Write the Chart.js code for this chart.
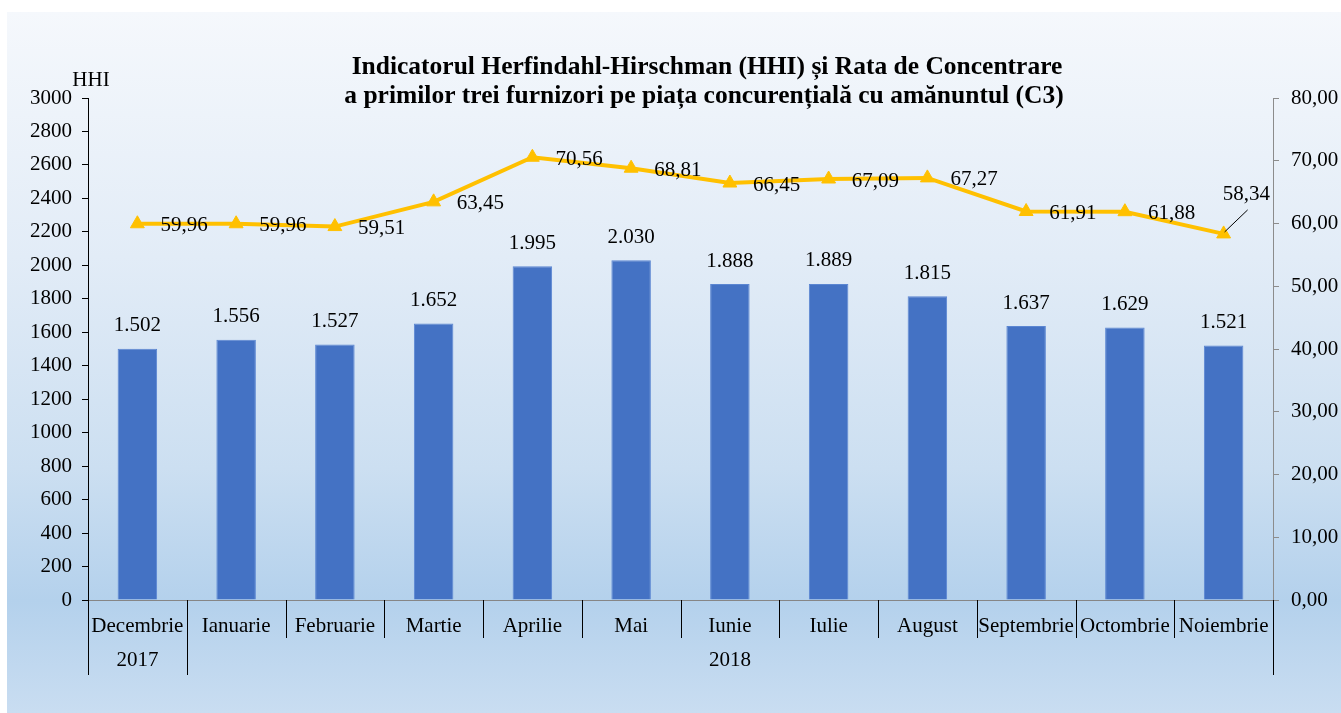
<!DOCTYPE html>
<html>
<head>
<meta charset="utf-8">
<script src="https://cdn.jsdelivr.net/npm/chart.js@4.4.1/dist/chart.umd.min.js"></script>
<style>
html,body{margin:0;padding:0;background:#fff;overflow:hidden;width:1341px;height:713px}
#panel{position:absolute;left:7px;top:12px;width:1334px;height:701px;
background:linear-gradient(to bottom,#F5F8FC 0%,#E2ECF7 35%,#CCDFF1 65%,#B4D1EC 84%,#C9DDF1 100%)}
canvas{display:block}
</style>
</head>
<body>
<div id="panel"><canvas id="c" width="1334" height="701"></canvas></div>
<script>
const categories = ['Decembrie','Ianuarie','Februarie','Martie','Aprilie','Mai','Iunie','Iulie','August','Septembrie','Octombrie','Noiembrie'];
const yearLabels = ['2017','2018'];
const yearSpans = [1, 11];
const hhiValues = [1502,1556,1527,1652,1995,2030,1888,1889,1815,1637,1629,1521];
const c3Values = [59.96,59.96,59.51,63.45,70.56,68.81,66.45,67.09,67.27,61.91,61.88,58.34];
const titleLines = ['Indicatorul Herfindahl-Hirschman (HHI) și Rata de Concentrare','a primilor trei furnizori pe piața concurențială cu amănuntul (C3)'];
const leftAxisTitle = 'HHI';

const FONT = 'Liberation Serif, Times New Roman, serif';
const fmtHHI = v => Math.floor(v/1000) + '.' + String(v%1000).padStart(3,'0');
const fmtC3 = v => v.toFixed(2).replace('.', ',');

const decorPlugin = {
  id: 'decor',
  afterDatasetsDraw(chart) {
    const ctx = chart.ctx;
    ctx.save();
    ctx.fillStyle = '#000';
    ctx.font = '21px ' + FONT;
    ctx.textBaseline = 'middle';
    const barMeta = chart.getDatasetMeta(1);
    ctx.textAlign = 'center';
    barMeta.data.forEach((el, i) => {
      ctx.fillText(fmtHHI(hhiValues[i]), el.x, el.y - 23);
    });
    const lineMeta = chart.getDatasetMeta(0);
    lineMeta.data.forEach((el, i) => {
      ctx.textAlign = 'left';
      if (i === lineMeta.data.length - 1) {
        ctx.fillText(fmtC3(c3Values[i]), el.x - 1, el.y - 39);
        ctx.strokeStyle = '#000';
        ctx.lineWidth = 1;
        ctx.beginPath();
        ctx.moveTo(el.x + 1, el.y - 2);
        ctx.lineTo(el.x + 24, el.y - 24);
        ctx.stroke();
      } else {
        ctx.fillText(fmtC3(c3Values[i]), el.x + 23, el.y + 2);
      }
    });
    ctx.restore();
  },
  afterDraw(chart) {
    const ctx = chart.ctx;
    const xs = chart.scales.x;
    const ca = chart.chartArea;
    ctx.save();
    ctx.fillStyle = '#000';
    ctx.textAlign = 'center';
    ctx.textBaseline = 'middle';
    ctx.font = 'bold 25.5px ' + FONT;
    ctx.fillText(titleLines[0], 700, 55);
    ctx.fillText(titleLines[1], 697, 84);
    ctx.font = '21px ' + FONT;
    ctx.fillText(leftAxisTitle, 84, 68);
    const y0 = ca.bottom;
    ctx.strokeStyle = '#000';
    ctx.lineWidth = 1;
    const bounds = [];
    for (let i = 0; i <= categories.length; i++) bounds.push(Math.round(xs.getPixelForValue(i - 0.5)) + 0.5);
    const yearBounds = [0];
    let acc = 0;
    yearSpans.forEach(s => { acc += s; yearBounds.push(acc); });
    bounds.forEach((bx, i) => {
      const long = yearBounds.includes(i);
      ctx.beginPath();
      ctx.moveTo(bx, y0);
      ctx.lineTo(bx, y0 + (long ? 75 : 38));
      ctx.stroke();
    });
    ctx.font = '21px ' + FONT;
    for (let k = 0; k < yearLabels.length; k++) {
      const xa = xs.getPixelForValue(yearBounds[k] - 0.5);
      const xb = xs.getPixelForValue(yearBounds[k+1] - 0.5);
      ctx.fillText(yearLabels[k], (xa + xb) / 2, y0 + 60);
    }
    ctx.restore();
  }
};

new Chart(document.getElementById('c'), {
  data: {
    labels: categories,
    datasets: [
      {
        type: 'line',
        label: 'C3',
        data: c3Values,
        yAxisID: 'y1',
        borderColor: '#FFC000',
        backgroundColor: '#FFC000',
        borderWidth: 4,
        pointStyle: 'triangle',
        pointRadius: 8,
        pointBackgroundColor: '#FFC000',
        pointBorderColor: '#FFC000',
        pointBorderWidth: 1,
        tension: 0,
        order: 0
      },
      {
        type: 'bar',
        label: 'HHI',
        data: hhiValues,
        yAxisID: 'y',
        backgroundColor: '#4472C4',
        borderColor: '#5B86D2',
        borderWidth: 1,
        barPercentage: 0.4,
        categoryPercentage: 1,
        order: 1
      }
    ]
  },
  options: {
    responsive: false,
    devicePixelRatio: 1,
    animation: false,
    events: [],
    layout: { padding: { top: 86, bottom: 33, left: 0, right: 0 } },
    plugins: { legend: { display: false }, tooltip: { enabled: false }, title: { display: false } },
    scales: {
      x: {
        type: 'category',
        offset: true,
        grid: { display: false },
        border: { display: true, color: '#868686', width: 1 },
        ticks: { font: { family: FONT, size: 21 }, color: '#000', padding: 6, maxRotation: 0, autoSkip: false },
        afterFit: s => { s.height = 80; }
      },
      y: {
        type: 'linear',
        position: 'left',
        min: 0, max: 3000,
        ticks: { stepSize: 200, font: { family: FONT, size: 21 }, color: '#000', padding: 10, callback: v => String(v) },
        grid: { drawOnChartArea: false, tickLength: 6, color: '#000' },
        border: { display: true, color: '#000' },
        afterFit: s => { s.width = 81; }
      },
      y1: {
        type: 'linear',
        position: 'right',
        min: 0, max: 80,
        ticks: { stepSize: 10, font: { family: FONT, size: 21 }, color: '#000', padding: 12, callback: v => fmtC3(v) },
        grid: { drawOnChartArea: false, tickLength: 6, color: '#8c8c8c' },
        border: { display: true, color: '#8c8c8c' },
        afterFit: s => { s.width = 68; }
      }
    }
  },
  plugins: [decorPlugin]
});
</script>
</body>
</html>
